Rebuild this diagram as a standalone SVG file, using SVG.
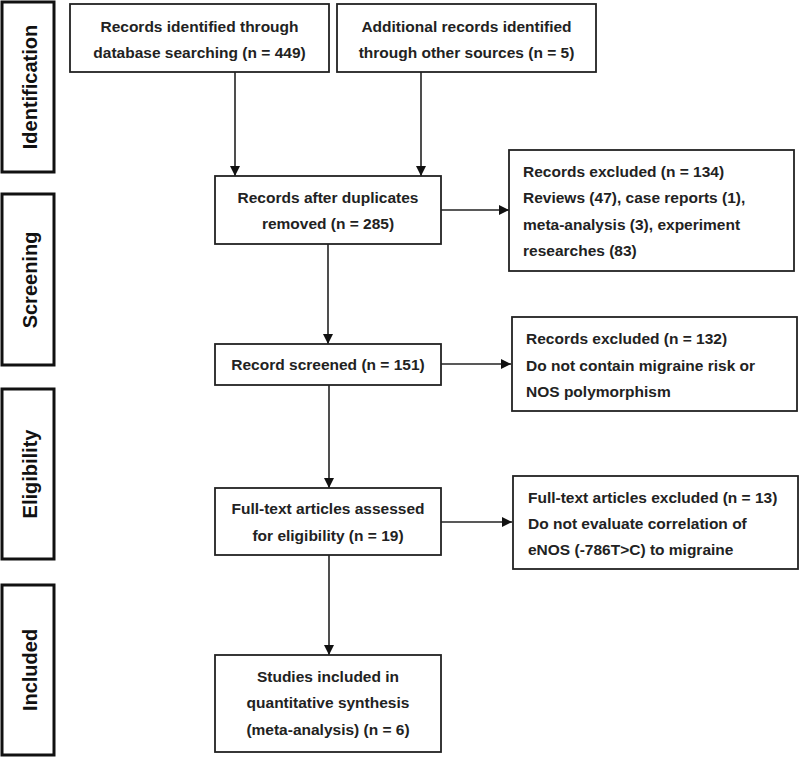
<svg xmlns="http://www.w3.org/2000/svg" width="800" height="757" viewBox="0 0 800 757">
<defs>
<style>
.box{fill:#fff;stroke:#222;stroke-width:1.8}
.side{fill:#fff;stroke:#111;stroke-width:3}
.t{font-family:"Liberation Sans",Arial,sans-serif;font-weight:bold;font-size:15.5px;fill:#222}
.c{text-anchor:middle}
.s{font-family:"Liberation Sans",Arial,sans-serif;font-weight:bold;font-size:20px;fill:#111;text-anchor:middle}
.conn{fill:none;stroke:#222;stroke-width:1.6}
</style>
<marker id="ah" markerUnits="userSpaceOnUse" markerWidth="11" markerHeight="11" refX="10" refY="5" orient="auto">
<path d="M0,0 L10,5 L0,10 z" fill="#111"/>
</marker>
</defs>
<rect width="800" height="757" fill="#fff"/>

<g id="stage-identification">
<rect class="side" x="2" y="2" width="52" height="170"/>
<text class="s" transform="translate(37,87) rotate(-90)">Identification</text>
</g>
<g id="stage-screening">
<rect class="side" x="2" y="194" width="52" height="171"/>
<text class="s" transform="translate(37,280) rotate(-90)">Screening</text>
</g>
<g id="stage-eligibility">
<rect class="side" x="2" y="389" width="52" height="170"/>
<text class="s" transform="translate(37,474) rotate(-90)">Eligibility</text>
</g>
<g id="stage-included">
<rect class="side" x="2" y="585" width="52" height="170"/>
<text class="s" transform="translate(37,670) rotate(-90)">Included</text>
</g>

<g id="connectors">
<line class="conn" x1="235" y1="72" x2="235" y2="176" marker-end="url(#ah)"/>
<line class="conn" x1="421" y1="72" x2="421" y2="176" marker-end="url(#ah)"/>
<line class="conn" x1="441" y1="210" x2="509" y2="210" marker-end="url(#ah)"/>
<line class="conn" x1="328" y1="244" x2="328" y2="344" marker-end="url(#ah)"/>
<line class="conn" x1="441" y1="364" x2="511" y2="364" marker-end="url(#ah)"/>
<line class="conn" x1="329" y1="385" x2="329" y2="488" marker-end="url(#ah)"/>
<line class="conn" x1="441" y1="522" x2="512" y2="522" marker-end="url(#ah)"/>
<line class="conn" x1="329" y1="555" x2="329" y2="655" marker-end="url(#ah)"/>
</g>

<g id="n-database">
<rect class="box" x="70" y="4" width="259" height="68"/>
<text class="t c" x="199.5" y="32">Records identified through</text>
<text class="t c" x="199.5" y="58">database searching (n = 449)</text>
</g>
<g id="n-other">
<rect class="box" x="337" y="4" width="259" height="68"/>
<text class="t c" x="466.5" y="32">Additional records identified</text>
<text class="t c" x="466.5" y="58">through other sources (n = 5)</text>
</g>
<g id="n-duplicates">
<rect class="box" x="215" y="176" width="226" height="68"/>
<text class="t c" x="328" y="203">Records after duplicates</text>
<text class="t c" x="328" y="229">removed (n = 285)</text>
</g>
<g id="n-excluded1">
<rect class="box" x="509" y="150" width="285" height="121"/>
<text class="t" x="523" y="177">Records excluded (n = 134)</text>
<text class="t" x="523" y="203">Reviews (47), case reports (1),</text>
<text class="t" x="523" y="230">meta-analysis (3), experiment</text>
<text class="t" x="523" y="256">researches (83)</text>
</g>
<g id="n-screened">
<rect class="box" x="215" y="344" width="226" height="41"/>
<text class="t c" x="328" y="370">Record screened (n = 151)</text>
</g>
<g id="n-excluded2">
<rect class="box" x="512" y="317" width="285" height="94"/>
<text class="t" x="526" y="344">Records excluded (n = 132)</text>
<text class="t" x="526" y="371">Do not contain migraine risk or</text>
<text class="t" x="526" y="397">NOS polymorphism</text>
</g>
<g id="n-fulltext">
<rect class="box" x="215" y="488" width="226" height="67"/>
<text class="t c" x="328" y="514">Full-text articles assessed</text>
<text class="t c" x="328" y="541">for eligibility (n = 19)</text>
</g>
<g id="n-excluded3">
<rect class="box" x="513" y="476" width="285" height="93"/>
<text class="t" x="528" y="503">Full-text articles excluded (n = 13)</text>
<text class="t" x="528" y="529">Do not evaluate correlation of</text>
<text class="t" x="528" y="555">eNOS (-786T&gt;C) to migraine</text>
</g>
<g id="n-included">
<rect class="box" x="215" y="655" width="226" height="97"/>
<text class="t c" x="328" y="682">Studies included in</text>
<text class="t c" x="328" y="708">quantitative synthesis</text>
<text class="t c" x="328" y="735">(meta-analysis) (n = 6)</text>
</g>
</svg>
